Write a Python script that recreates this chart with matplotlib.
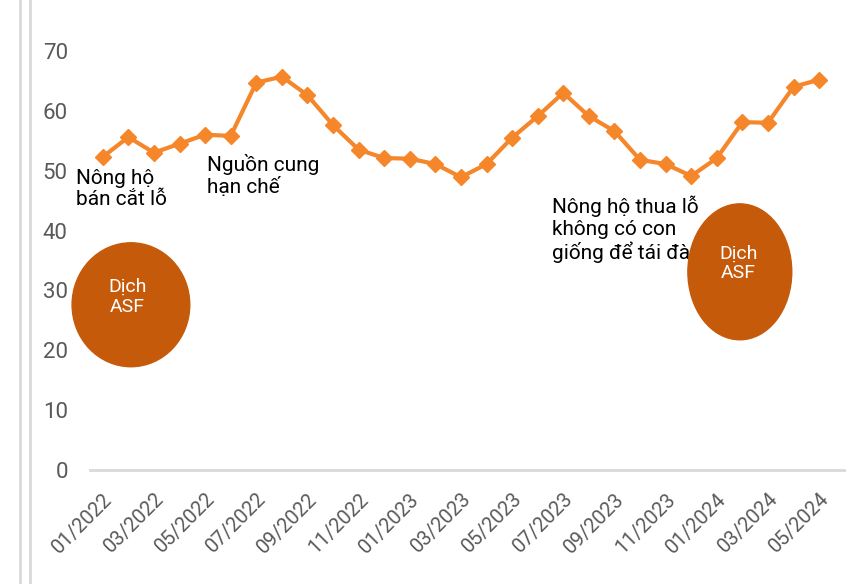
import numpy as np
import matplotlib
matplotlib.use("Agg")
import matplotlib.pyplot as plt
from matplotlib.patches import Ellipse
from matplotlib.lines import Line2D

plt.rcParams['font.family'] = ['Roboto', 'DejaVu Sans']

months = ['01/2022', '02/2022', '03/2022', '04/2022', '05/2022', '06/2022',
          '07/2022', '08/2022', '09/2022', '10/2022', '11/2022', '12/2022',
          '01/2023', '02/2023', '03/2023', '04/2023', '05/2023', '06/2023',
          '07/2023', '08/2023', '09/2023', '10/2023', '11/2023', '12/2023',
          '01/2024', '02/2024', '03/2024', '04/2024', '05/2024']
prices = [52.3, 55.6, 53.0, 54.5, 56.0, 55.8, 64.7, 65.7, 62.6, 57.6,
          53.5, 52.1, 52.0, 51.1, 48.9, 51.1, 55.5, 59.1, 63.0, 59.1,
          56.6, 51.8, 51.1, 49.1, 52.1, 58.1, 58.0, 64.0, 65.2]
yticks = [0, 10, 20, 30, 40, 50, 60, 70]

orange = '#F5862A'
dark = '#C55A0B'
grey = '#595959'

fig = plt.figure(figsize=(8.46, 5.84), dpi=100)
ax = fig.add_axes([90/846, 114/584, 756/846, 467/584])

x = np.arange(len(months))
ax.plot(x, prices, color=orange, lw=3, marker='D', ms=8, mec=orange, mfc=orange, zorder=3)

ax.set_xlim(-0.5, 29.05)
ax.set_ylim(0, 78)
ax.set_yticks(yticks)
ax.set_yticklabels([str(v) for v in yticks], fontsize=16, color=grey)
ax.set_xticks(x[::2])
ax.set_xticklabels(months[::2], rotation=45, ha='right', rotation_mode='anchor',
                   fontsize=14.5, color=grey)
ax.tick_params(axis='both', length=0)
ax.tick_params(axis='y', pad=16)
ax.tick_params(axis='x', pad=14)
for s in ['top', 'right', 'left']:
    ax.spines[s].set_visible(False)
ax.spines['bottom'].set_color('#D9D9D9')
ax.spines['bottom'].set_linewidth(2)

# ASF bubbles
ax.add_patch(Ellipse((1.1, 27.6), 4.6, 20.7, color=dark, zorder=5, clip_on=False))
ax.text(0.95, 28.9, 'Dịch\nASF', color='white', fontsize=14, ha='center', va='center',
        linespacing=1.15, zorder=6)

ax.text(-1.05, 50.3, 'Nông hộ\nbán cắt lỗ', fontsize=15, va='top', ha='left',
        linespacing=1.15, zorder=4)
ax.text(4.06, 52.8, 'Nguồn cung\nhạn chế', fontsize=15, va='top', ha='left',
        linespacing=1.15, zorder=4)
ax.text(17.55, 45.8, 'Nông hộ thua lỗ\nkhông có con\ngiống để tái đàn', fontsize=15,
        va='top', ha='left', linespacing=1.15, zorder=4)

ax.add_patch(Ellipse((24.9, 33.1), 4.06, 22.7, color=dark, zorder=5, clip_on=False))
ax.text(24.85, 34.5, 'Dịch\nASF', color='white', fontsize=14, ha='center', va='center',
        linespacing=1.15, zorder=6)

# frame lines on the left edge
for xp in (20, 30):
    fig.add_artist(Line2D([xp/846, xp/846], [0, 1], color='#D9D9D9', lw=2))

fig.savefig('out.png', dpi=100)
